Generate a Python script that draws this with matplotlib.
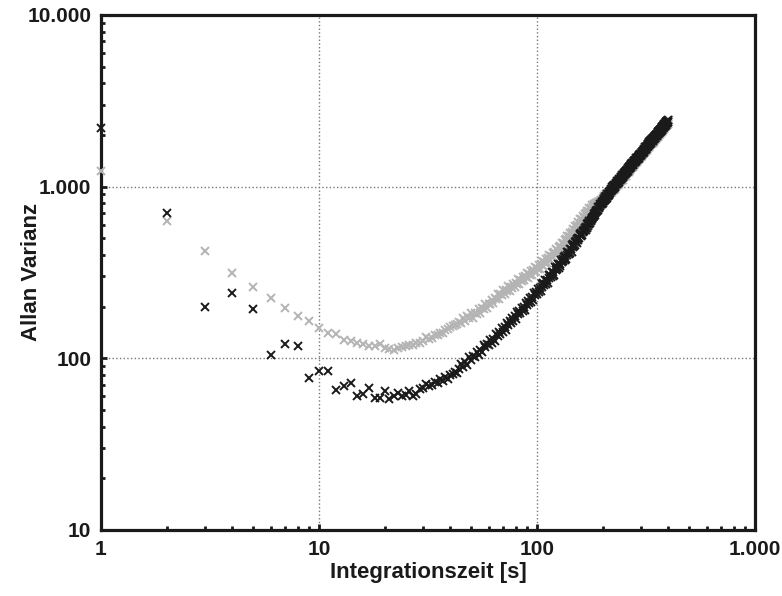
import matplotlib
matplotlib.use("Agg")

import numpy as np
import matplotlib.pyplot as plt
from matplotlib.ticker import FuncFormatter, LogLocator, NullFormatter

# Allan-Varianz, Messreihe 1 (schwarz) - Werte fuer tau = 1, 2, 3, ... s
schwarz = [
    2200, 706, 198, 239, 193, 104, 121, 117, 77, 84,
    84, 65, 69, 72, 60, 62, 67, 59, 59, 64,
    58, 60, 63, 60, 61, 64, 60, 62, 66, 67,
    71, 69, 70, 73, 72, 76, 74, 78, 76, 80,
    81, 83, 82, 87,
    93, 89, 95, 91, 101, 98, 103, 102, 109, 105, 111,
    108, 119, 116, 121, 119, 128, 122, 130, 126, 139, 135, 142, 139,
    149, 143, 152, 146, 161, 156, 164, 161, 172, 165, 175, 169, 186, 180, 189, 184,
    197, 188, 199, 192, 211, 205, 214, 209, 224, 213, 226, 218, 240, 232, 243, 237,
    253, 242, 256, 246, 270, 261, 273, 267, 284, 272, 287,
    276, 304, 293, 306, 298, 317, 303, 319, 307, 338, 326, 341, 331, 353, 337, 356, 343,
    375, 362, 377, 368, 391, 372, 393, 378, 415, 400, 417, 406, 432, 411, 433, 418,
    458, 442, 460, 448, 476, 454, 479, 470, 496, 487, 503, 499, 521,
    528, 514, 534, 524, 552, 542, 559, 554, 577, 561, 585, 573, 604, 592, 611, 606,
    631, 613, 639, 627, 660, 647, 669, 662, 691, 670, 699, 686, 722, 709, 731, 725,
    755, 734, 765, 750, 791,
    773, 796, 786, 817, 791, 822, 805, 845, 826, 849, 840, 872, 845, 878, 859, 902,
    882, 908, 897, 932, 903, 938, 917, 963, 942, 970, 958, 996, 964, 1002, 980,
    1021, 998, 1024, 1011, 1047, 1034, 1055, 1041, 1075, 1049, 1077, 1063, 1102, 1088,
    1111, 1096, 1131, 1104, 1134, 1118, 1160, 1144, 1169, 1153, 1190, 1162, 1193, 1177,
    1221, 1204, 1230, 1214, 1253, 1223, 1256, 1239, 1285, 1268, 1295, 1278, 1318, 1287,
    1321, 1300, 1347, 1327, 1354, 1335, 1375, 1342, 1376, 1355, 1404, 1383, 1411, 1390,
    1432, 1398, 1433, 1411, 1463, 1441, 1471, 1448, 1493, 1456, 1493, 1472, 1524, 1501,
    1532, 1510, 1556, 1518, 1557, 1534, 1588, 1565, 1597, 1573, 1621, 1581, 1622, 1598,
    1654, 1631, 1663, 1639, 1689, 1648, 1689, 1665, 1724, 1698, 1733, 1708, 1760, 1717,
    1761, 1735, 1797, 1770, 1806, 1779, 1833,
    1787, 1830, 1802, 1865, 1836, 1872, 1842, 1897, 1849, 1894, 1865, 1930, 1899, 1936,
    1906, 1963, 1913, 1960, 1930, 1997, 1966, 2004, 1973, 2031, 1980, 2028, 1997, 2067,
    2035, 2074, 2041, 2102, 2049, 2099, 2067, 2139, 2105, 2146, 2113, 2175, 2120, 2173,
    2138, 2213, 2179, 2221, 2186, 2251, 2194, 2248, 2213, 2290, 2255, 2299, 2262, 2329,
    2270, 2328, 2291, 2372, 2335, 2382, 2344, 2415, 2354, 2412, 2375, 2458,
]

# Messreihe 2 (grau)
grau = [
    1240, 628, 419, 313, 260, 225, 197, 176, 165, 149,
    141, 138, 128, 126, 123, 121, 117, 118, 121, 115,
    113, 112, 115, 116, 117, 119, 120, 122, 123, 126,
    132, 130, 131, 136, 137, 140, 141, 146, 147, 151,
    155, 156, 159, 162,
    161, 172, 164, 175, 172, 184, 172, 184, 181, 193, 184,
    197, 194, 208, 195, 208, 206, 219, 210, 224, 222, 236, 222, 237,
    233, 248, 237, 251, 247, 262, 245, 261, 256, 272, 260, 276, 271, 288, 270, 287,
    281, 299, 284, 302, 296, 314, 293, 311, 305, 323, 307, 326, 320, 340, 317, 336,
    329, 350, 333, 354, 347, 368, 343, 365, 357, 379, 361,
    384, 376, 398, 372, 395, 387, 411, 391, 415, 407, 433, 403, 428, 420, 446, 424, 451,
    443, 470, 440, 468, 459, 488, 465, 495, 485, 516, 482, 512, 503, 535, 509, 542,
    532, 566, 528, 562, 552, 586, 559, 594, 583, 620, 579, 616, 606,
    643, 611, 648, 635, 673, 627, 666, 652, 692, 658, 698, 683, 725, 675, 717, 702,
    745, 708, 751, 736, 780, 727, 773,
    760, 786, 759, 786, 773, 800, 771, 799, 786, 813, 784, 812, 799, 826,
    807, 836, 809, 838, 827, 857, 828, 859, 846, 877, 848, 879, 867, 899, 868, 900,
    888, 920, 890, 922, 910, 942, 911, 944, 932, 966, 933, 968, 954, 989, 956,
    991, 973, 1014, 990, 1011, 993, 1034, 1021, 1043, 1022, 1066, 1041, 1064, 1045,
    1089, 1074, 1097, 1077, 1122, 1096, 1120, 1099, 1145, 1130, 1154, 1134, 1180, 1153,
    1179, 1156, 1206, 1189, 1215, 1193, 1243, 1215, 1240, 1217, 1269, 1253, 1280, 1255,
    1307, 1274, 1300, 1275, 1327, 1307, 1334, 1308, 1362, 1329, 1355, 1328, 1382, 1362,
    1390, 1363, 1418, 1383, 1412, 1384, 1441, 1419, 1448, 1419, 1478, 1442, 1470, 1442,
    1501, 1480, 1510, 1479, 1540, 1503, 1534, 1503, 1564, 1541, 1572, 1542, 1605, 1565,
    1597, 1566, 1630, 1607, 1639, 1606, 1672, 1631, 1665, 1631, 1698, 1673, 1708, 1674,
    1742, 1700, 1735, 1700, 1769, 1743, 1779,
    1742, 1811, 1765, 1800, 1763, 1834, 1805, 1840, 1803, 1875, 1828, 1862, 1824, 1897,
    1868, 1905, 1865, 1939, 1891, 1928, 1888, 1963, 1933, 1971, 1931, 2007, 1956, 1995,
    1954, 2032, 2000, 2039, 1998, 2078, 2026, 2064, 2022, 2103, 2071, 2110, 2067, 2150,
    2096, 2137, 2092, 2176, 2142, 2185, 2138, 2225, 2169, 2211, 2165, 2252, 2217, 2260,
    2213, 2303, 2245, 2290, 2242, 2333, 2297, 2343, 2295, 2387, 2328, 2373, 2325, 2419,
    2382, 2429,
]

tau_schwarz = np.arange(1, len(schwarz) + 1)
tau_grau = np.arange(1, len(grau) + 1)

x_ticks = [1, 10, 100, 1000]
y_ticks = [10, 100, 1000, 10000]

plt.rcParams['font.family'] = ['Liberation Sans', 'DejaVu Sans']

fig = plt.figure(figsize=(7.82, 5.96), dpi=100)
ax = fig.add_axes([0.129, 0.111, 0.8365, 0.864])

ax.plot(tau_grau, grau, linestyle='none', marker='x', markersize=6.3,
        markeredgewidth=1.4, color='#b4b4b4', clip_on=False, zorder=3)
ax.plot(tau_schwarz, schwarz, linestyle='none', marker='x', markersize=6.3,
        markeredgewidth=1.4, color='#1a1a1a', clip_on=False, zorder=4)

ax.set_xscale('log')
ax.set_yscale('log')
ax.set_xlim(1, 1000)
ax.set_ylim(10, 10000)

def de_format(v, pos):
    return f"{int(round(v)):,}".replace(",", ".")

ax.set_xticks(x_ticks)
ax.set_yticks(y_ticks)
ax.xaxis.set_major_formatter(FuncFormatter(de_format))
ax.yaxis.set_major_formatter(FuncFormatter(de_format))
ax.xaxis.set_minor_locator(LogLocator(base=10, subs=np.arange(2, 10)))
ax.yaxis.set_minor_locator(LogLocator(base=10, subs=np.arange(2, 10)))
ax.xaxis.set_minor_formatter(NullFormatter())
ax.yaxis.set_minor_formatter(NullFormatter())

ax.tick_params(which='major', direction='in', length=4, width=2, color='#1a1a1a',
               labelsize=15, pad=7, top=False, right=False)
ax.tick_params(which='minor', direction='in', length=3, width=2, color='#1a1a1a',
               top=False, right=False)
for lab in ax.get_xticklabels() + ax.get_yticklabels():
    lab.set_fontweight('bold')
    lab.set_color('#1a1a1a')

ax.grid(True, which='major', linestyle=':', linewidth=1, color='#777777')
ax.set_axisbelow(True)

for s in ax.spines.values():
    s.set_linewidth(2.3)
    s.set_color('#1a1a1a')

ax.set_xlabel('Integrationszeit [s]', fontsize=16, fontweight='bold', color='#1a1a1a')
ax.set_ylabel('Allan Varianz', fontsize=16, fontweight='bold', color='#1a1a1a')
ax.xaxis.set_label_coords(0.5, -0.062)
ax.yaxis.set_label_coords(-0.09, 0.5)

fig.savefig('out.png', dpi=100)
